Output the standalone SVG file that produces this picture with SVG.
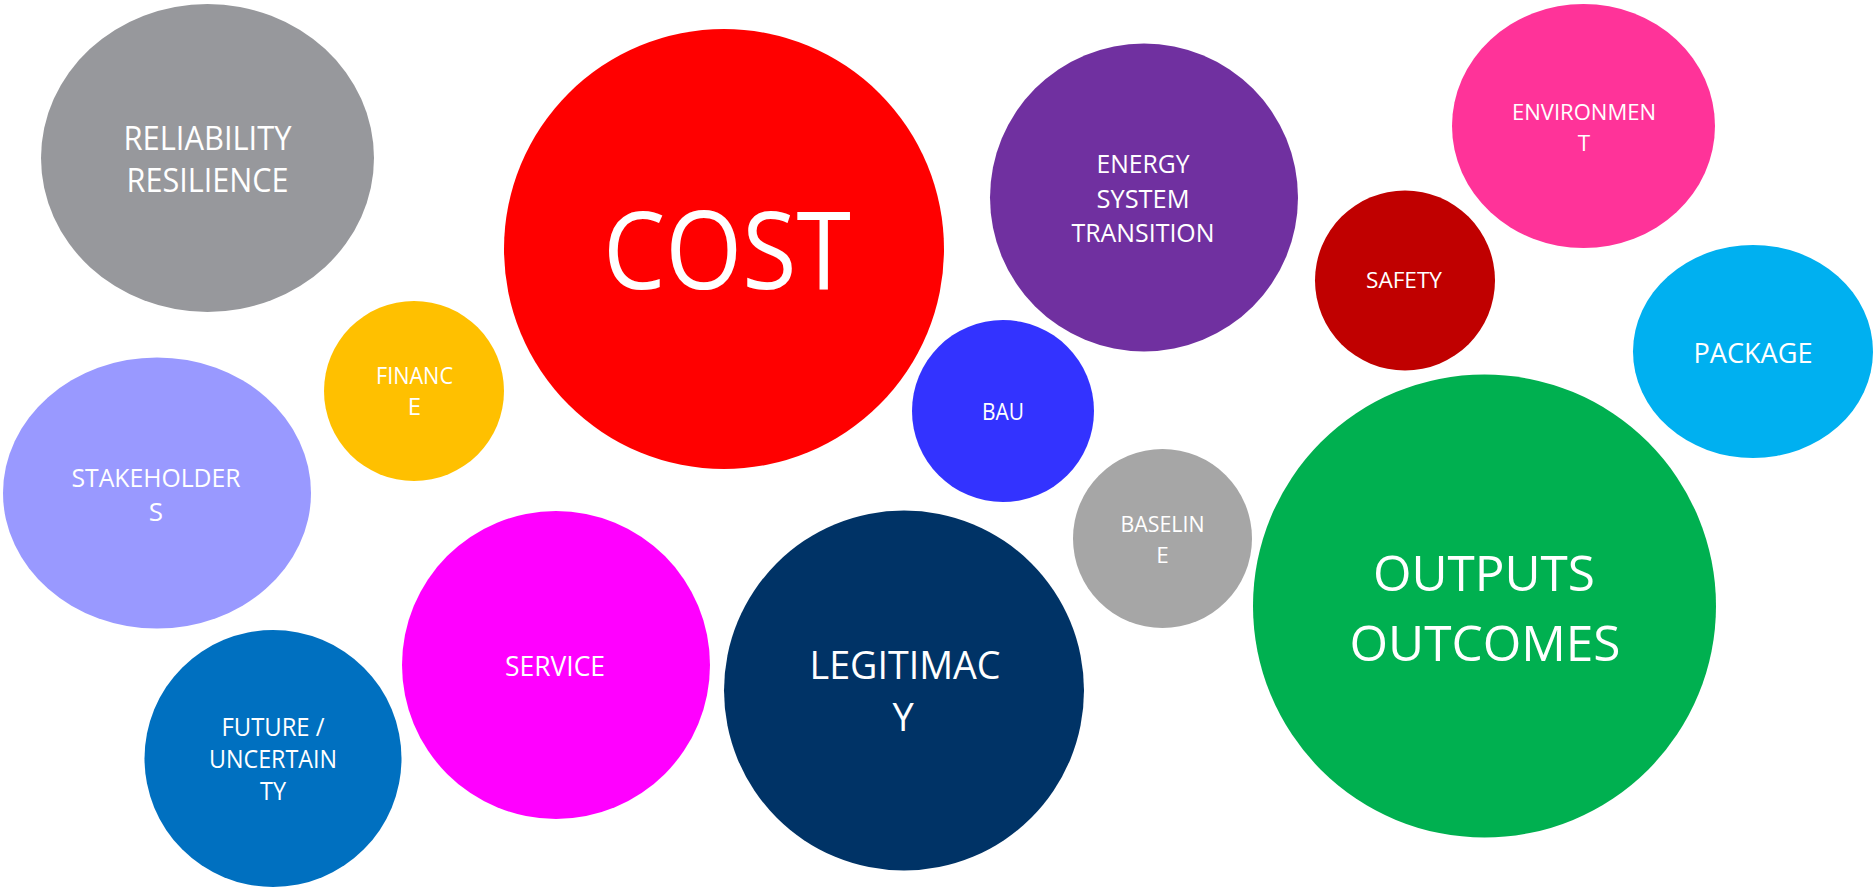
<svg xmlns="http://www.w3.org/2000/svg" width="1874" height="887" viewBox="0 0 1874 887">
  <style>
    text { font-family: "Open Sans", "Liberation Sans", sans-serif; fill: #ffffff; text-anchor: middle; }
  </style>
  <rect width="1874" height="887" fill="#ffffff"/>

  <g id="reliability">
    <ellipse cx="207.5" cy="158" rx="166.5" ry="154" fill="#97989C"/>
    <text x="207.5" y="150" font-size="32" textLength="168" lengthAdjust="spacingAndGlyphs">RELIABILITY</text>
    <text x="207.5" y="192" font-size="32" textLength="162" lengthAdjust="spacingAndGlyphs">RESILIENCE</text>
  </g>

  <g id="cost">
    <circle cx="724" cy="249" r="220" fill="#FF0000"/>
    <text x="727" y="289" font-size="108" textLength="248" lengthAdjust="spacingAndGlyphs">COST</text>
  </g>

  <g id="energy-system-transition">
    <circle cx="1144" cy="197.5" r="154" fill="#7030A0"/>
    <text x="1143" y="173" font-size="25" textLength="93" lengthAdjust="spacingAndGlyphs">ENERGY</text>
    <text x="1143" y="208" font-size="25" textLength="93" lengthAdjust="spacingAndGlyphs">SYSTEM</text>
    <text x="1143" y="242" font-size="25" textLength="143" lengthAdjust="spacingAndGlyphs">TRANSITION</text>
  </g>

  <g id="environment">
    <ellipse cx="1583.5" cy="126" rx="131.5" ry="122" fill="#FF3399"/>
    <text x="1584" y="120" font-size="22.5" textLength="144" lengthAdjust="spacingAndGlyphs">ENVIRONMEN</text>
    <text x="1584" y="151" font-size="22.5">T</text>
  </g>

  <g id="safety">
    <circle cx="1405" cy="280.5" r="90" fill="#C00000"/>
    <text x="1404" y="288" font-size="22.5" textLength="76" lengthAdjust="spacingAndGlyphs">SAFETY</text>
  </g>

  <g id="package">
    <ellipse cx="1753" cy="351.5" rx="120" ry="106.5" fill="#00B0F0"/>
    <text x="1753" y="363" font-size="28" textLength="119" lengthAdjust="spacingAndGlyphs">PACKAGE</text>
  </g>

  <g id="finance">
    <circle cx="414" cy="391" r="90" fill="#FFC000"/>
    <text x="414.5" y="384" font-size="24" textLength="77" lengthAdjust="spacingAndGlyphs">FINANC</text>
    <text x="414.5" y="415" font-size="24">E</text>
  </g>

  <g id="bau">
    <circle cx="1003" cy="411" r="91" fill="#3333FF"/>
    <text x="1003" y="420" font-size="24" textLength="42" lengthAdjust="spacingAndGlyphs">BAU</text>
  </g>

  <g id="stakeholders">
    <ellipse cx="157" cy="493" rx="154" ry="135.5" fill="#9999FF"/>
    <text x="156" y="487" font-size="26" textLength="169" lengthAdjust="spacingAndGlyphs">STAKEHOLDER</text>
    <text x="156" y="521" font-size="26">S</text>
  </g>

  <g id="baseline">
    <circle cx="1162.5" cy="538.5" r="89.5" fill="#A6A6A6"/>
    <text x="1162.5" y="532" font-size="22.5" textLength="84" lengthAdjust="spacingAndGlyphs">BASELIN</text>
    <text x="1162.5" y="563" font-size="22.5">E</text>
  </g>

  <g id="outputs-outcomes">
    <circle cx="1484.5" cy="606" r="231.5" fill="#00B050"/>
    <text x="1484" y="591" font-size="50" textLength="222" lengthAdjust="spacingAndGlyphs">OUTPUTS</text>
    <text x="1485" y="661" font-size="50" textLength="271" lengthAdjust="spacingAndGlyphs">OUTCOMES</text>
  </g>

  <g id="service">
    <circle cx="556" cy="665" r="154" fill="#FF00FF"/>
    <text x="555" y="676" font-size="27" textLength="100" lengthAdjust="spacingAndGlyphs">SERVICE</text>
  </g>

  <g id="legitimacy">
    <circle cx="904" cy="690.5" r="180" fill="#003366"/>
    <text x="905" y="679" font-size="38" textLength="191" lengthAdjust="spacingAndGlyphs">LEGITIMAC</text>
    <text x="903" y="731" font-size="38">Y</text>
  </g>

  <g id="future-uncertainty">
    <circle cx="273" cy="758.5" r="128.5" fill="#0070C0"/>
    <text x="273" y="736" font-size="25" textLength="103" lengthAdjust="spacingAndGlyphs">FUTURE /</text>
    <text x="273" y="768" font-size="25" textLength="128" lengthAdjust="spacingAndGlyphs">UNCERTAIN</text>
    <text x="273" y="800" font-size="25" textLength="26" lengthAdjust="spacingAndGlyphs">TY</text>
  </g>
</svg>
